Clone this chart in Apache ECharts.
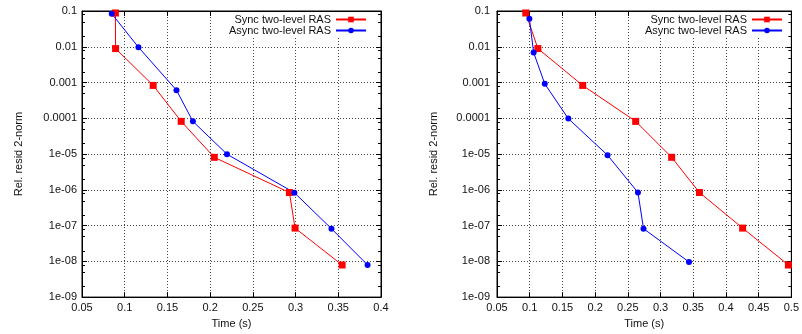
<!DOCTYPE html>
<html><head><meta charset="utf-8">
<script src="https://cdn.jsdelivr.net/npm/echarts@6/dist/echarts.min.js"></script>
<style>html,body{margin:0;padding:0;background:#fff}#c{width:802px;height:334px}</style>
</head><body><div id="c"></div>
<script>
const seriesNames = ['Sync two-level RAS', 'Async two-level RAS'];
// Left panel
const leftSyncTime   = [0.0891, 0.0893, 0.1333, 0.1661, 0.2048, 0.2928, 0.2994, 0.3545];
const leftSyncResid  = [0.088, 0.0089, 0.00083, 8.2e-5, 8.1e-6, 8.4e-7, 8.5e-8, 7.9e-9];
const leftAsyncTime  = [0.0848, 0.1161, 0.1606, 0.1798, 0.2197, 0.2986, 0.342, 0.3843];
const leftAsyncResid = [0.084, 0.0097, 0.00061, 8.2e-5, 9.9e-6, 8.3e-7, 8.2e-8, 7.9e-9];
// Right panel
const rightSyncTime   = [0.094, 0.1125, 0.181, 0.262, 0.317, 0.3595, 0.4255, 0.4955];
const rightSyncResid  = [0.088, 0.0089, 0.00083, 8.2e-5, 8.1e-6, 8.4e-7, 8.5e-8, 7.9e-9];
const rightAsyncTime  = [0.0995, 0.106, 0.123, 0.159, 0.219, 0.2655, 0.274, 0.3435];
const rightAsyncResid = [0.061, 0.0069, 0.00092, 9.8e-5, 9.3e-6, 8.4e-7, 8.2e-8, 9.6e-9];
// Axes
const leftXRange = [0.05, 0.4];
const rightXRange = [0.05, 0.5];
const xStep = 0.05;
const yRange = [1e-9, 0.1];
const yTickLabels = ['1e-09','1e-08','1e-07','1e-06','1e-05','0.0001','0.001','0.01','0.1']; // exponents -9..-1
const minorMantissas = [2, 5, 8];
const xAxisName = 'Time (s)';
const yAxisName = 'Rel. resid 2-norm';

const minorTickValues = [];
for (let e = -9; e <= -2; e++) minorMantissas.forEach(m => minorTickValues.push(m * Math.pow(10, e)));

const zip = (a, b) => a.map((v, i) => [v, b[i]]);
const FONT = 'Liberation Sans, Arial, sans-serif';
const TXT = '#111';

function xFmt(v) { return String(+v.toFixed(2)); }
function yFmt(v) { const e = Math.round(Math.log10(v)); return yTickLabels[e + 9]; }

function bottomX(gi, range) {
  return { gridIndex: gi, type: 'value', position: 'bottom', min: range[0], max: range[1], interval: xStep,
    name: xAxisName, nameLocation: 'middle', nameGap: 19,
    nameTextStyle: { fontSize: 11, color: TXT, fontFamily: FONT },
    axisLine: { show: true, lineStyle: { color: '#000', width: 1 } },
    axisTick: { show: true, inside: true, length: 5, lineStyle: { color: '#000' } },
    axisLabel: { fontSize: 11, color: TXT, fontFamily: FONT, margin: 5, formatter: xFmt, showMinLabel: true, showMaxLabel: true },
    splitLine: { show: true, lineStyle: { color: '#444', type: [1, 2], width: 1 } } };
}
function topX(gi, range) {
  return { gridIndex: gi, type: 'value', position: 'top', min: range[0], max: range[1], interval: xStep,
    axisLine: { show: true, lineStyle: { color: '#000', width: 1 } },
    axisTick: { show: true, inside: true, length: 5, lineStyle: { color: '#000' } },
    axisLabel: { show: false }, splitLine: { show: false } };
}
function leftY(gi, margin) {
  return { gridIndex: gi, type: 'log', logBase: 10, position: 'left', min: yRange[0], max: yRange[1], splitNumber: 8,
    name: yAxisName, nameLocation: 'middle', nameGap: 58, nameRotate: 90,
    nameTextStyle: { fontSize: 11, color: TXT, fontFamily: FONT },
    axisLine: { show: true, lineStyle: { color: '#000', width: 1 } },
    axisTick: { show: true, inside: true, length: 5, lineStyle: { color: '#000' } },
    axisLabel: { fontSize: 11, color: TXT, fontFamily: FONT, margin: margin, formatter: yFmt },
    splitLine: { show: true, lineStyle: { color: '#444', type: [1, 2], width: 1 } } };
}
function rightY(gi) {
  return { gridIndex: gi, type: 'log', logBase: 10, position: 'right', min: yRange[0], max: yRange[1], splitNumber: 8,
    axisLine: { show: true, lineStyle: { color: '#000', width: 1 } },
    axisTick: { show: true, inside: true, length: 5, lineStyle: { color: '#000' } },
    axisLabel: { show: false }, splitLine: { show: false } };
}
function lineSeries(name, xi, yi, data, isSync) {
  return { type: 'line', name: name, xAxisIndex: xi, yAxisIndex: yi, data: data,
    symbol: isSync ? 'rect' : 'circle', symbolSize: isSync ? 7 : 6, showAllSymbol: true,
    clip: false, animation: false,
    lineStyle: { color: isSync ? '#ff0000' : '#0000ff', width: 1 },
    itemStyle: { color: isSync ? '#ff0000' : '#0000ff' } };
}
function minorTicks(xi, yi, range) {
  return { type: 'custom', xAxisIndex: xi, yAxisIndex: yi, silent: true, animation: false, clip: false,
    data: minorTickValues.map(v => [range[0], v]),
    renderItem: function (params, api) {
      const v = api.value(1);
      const p1 = api.coord([range[0], v]);
      const p2 = api.coord([range[1], v]);
      const y = Math.round(p1[1]) + 0.5;
      return { type: 'group', children: [
        { type: 'line', shape: { x1: p1[0], y1: y, x2: p1[0] + 3, y2: y }, style: { stroke: '#000', lineWidth: 1 } },
        { type: 'line', shape: { x1: p2[0] - 3, y1: y, x2: p2[0], y2: y }, style: { stroke: '#000', lineWidth: 1 } }
      ] };
    } };
}
function legendItem(name, right, top) {
  return { data: [name], orient: 'horizontal', right: right, top: top, align: 'right', padding: [2, 2],
    itemWidth: 30, itemHeight: 7, itemGap: 0, backgroundColor: '#fff', selectedMode: false,
    textStyle: { fontSize: 11, color: TXT, fontFamily: FONT, lineHeight: 11 } };
}

const chart = echarts.init(document.getElementById('c'), null, { renderer: 'canvas' });
chart.setOption({
  animation: false,
  backgroundColor: '#fff',
  grid: [
    { left: 82, top: 11, width: 299, height: 287, show: true, borderColor: '#000', borderWidth: 1, containLabel: false },
    { left: 497, top: 11, width: 300, height: 287, show: true, borderColor: '#000', borderWidth: 1, containLabel: false }
  ],
  xAxis: [ bottomX(0, leftXRange), topX(0, leftXRange), bottomX(1, rightXRange), topX(1, rightXRange) ],
  yAxis: [ leftY(0, 5), rightY(0), leftY(1, 7), rightY(1) ],
  legend: [
    legendItem(seriesNames[0], 433, 12), legendItem(seriesNames[1], 433, 23),
    legendItem(seriesNames[0], 17, 12), legendItem(seriesNames[1], 17, 23)
  ],
  series: [
    lineSeries(seriesNames[0], 0, 0, zip(leftSyncTime, leftSyncResid), true),
    lineSeries(seriesNames[1], 0, 0, zip(leftAsyncTime, leftAsyncResid), false),
    lineSeries(seriesNames[0], 2, 2, zip(rightSyncTime, rightSyncResid), true),
    lineSeries(seriesNames[1], 2, 2, zip(rightAsyncTime, rightAsyncResid), false),
    minorTicks(0, 0, leftXRange),
    minorTicks(2, 2, rightXRange)
  ]
});
</script></body></html>
